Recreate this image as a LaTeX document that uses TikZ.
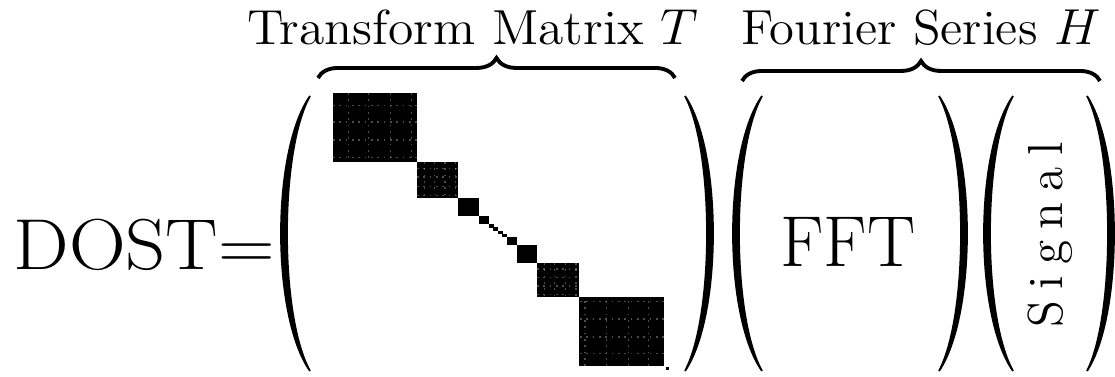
\documentclass[tikz,border=0pt]{standalone}
\usepackage{tikz}
\usetikzlibrary{decorations.pathreplacing}

% big round delimiter: ends at x=#1, middle at x=#2
\newcommand{\dlm}[2]{%
  \pgfmathsetmacro{\dlo}{(4*(#2-3*sign(#1-#2))-#1)/3}%
  \pgfmathsetmacro{\dli}{(4*(#2+3*sign(#1-#2))-#1)/3}%
  \filldraw[dl] (#1,281) .. controls (\dlo,226) and (\dlo,61) .. (#1,6)
    .. controls (\dli,61) and (\dli,226) .. (#1,281) -- cycle;}
% faint grain inside a block, corners (#1,#2) and (#3,#4)
\newcommand{\dgrain}[4]{%
  \foreach \f in {0.18,0.42,0.68,0.93} {
    \draw[grain] ({#1+\f*(#3-#1)},#2) -- ({#1+\f*(#3-#1)},#4);
    \draw[grain] (#1,{#2+\f*(#4-#2)}) -- (#3,{#2+\f*(#4-#2)});
  }}

\begin{document}
\begin{tikzpicture}[
  x=0.01cm, y=0.01cm,
  dl/.style={fill=black,line width=0.5pt},
  grain/.style={draw=white,opacity=0.3,line width=0.35pt,dash pattern=on 0.5pt off 1.3pt},
  brc/.style={decorate,decoration={brace,amplitude=5.7pt},line width=1.1pt},
  lbl/.style={inner sep=0pt,font=\fontsize{14}{16}\selectfont},
  big/.style={inner sep=0pt,font=\fontsize{20.5}{24}\selectfont}
]
\useasboundingbox (0,0) rectangle (1115,377);

% left hand side
\node[big,anchor=base west] (dost) at (13,107) {\scalebox{1.09}[1]{DOST=}};

% transform matrix T
\dlm{310}{284}
\foreach \xa/\ya/\xb/\yb in {333/284/417/215, 417/215/458/179, 458/179/479/161,
    479/161/489/153, 489/153/494/149, 493/150/498/146, 498/146/503/143,
    502/143/507/140, 507/140/517/132, 517/132/537/114, 537/114/579/80,
    579/80/664/11, 666/10/669/7}
  \fill (\xa,\ya) rectangle (\xb,\yb);
\dgrain{333}{284}{417}{215}
\dgrain{417}{215}{458}{179}
\dgrain{537}{114}{579}{80}
\dgrain{664}{11}{579}{80}
\dlm{685}{710}

% Fourier series H
\dlm{762}{736}
\node[big,anchor=base] (fft) at (848,110) {FFT};
\dlm{939}{964}
\dlm{1013}{987}
\node[lbl,rotate=90,anchor=base] (sig) at (1062,142) {\spaceskip=3.2pt S i g n a l};
\dlm{1087}{1111}

% braces and headings
\coordinate (ta) at (318,299);
\coordinate (tb) at (675,299);
\coordinate (ha) at (742,296);
\coordinate (hb) at (1100,296);
\draw[brc] (ta) -- (tb);
\draw[brc] (ha) -- (hb);
\node[lbl,anchor=base] (tt) at (473,332) {\scalebox{1.05}[1]{Transform Matrix $T$}};
\node[lbl,anchor=base] (th) at (921,332) {\scalebox{1.03}[1]{Fourier Series $H$}};
\end{tikzpicture}
\end{document}
